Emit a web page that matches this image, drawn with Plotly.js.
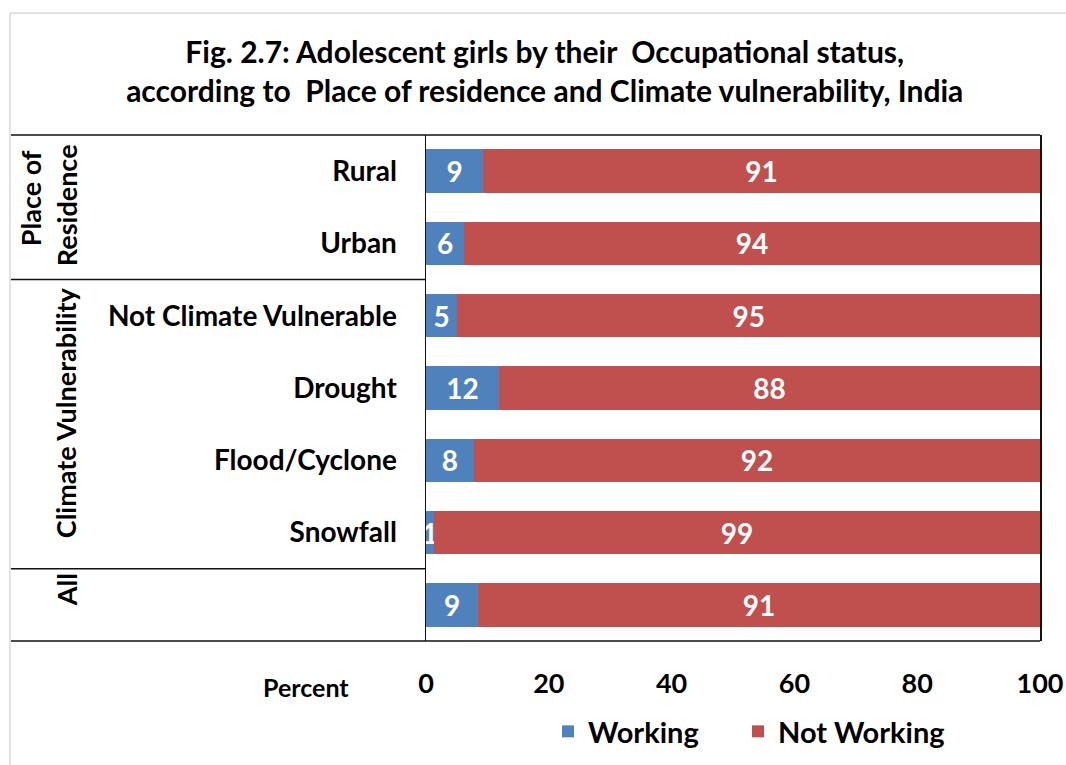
<!DOCTYPE html>
<html>
<head>
<meta charset="utf-8">
<script src="https://cdn.plot.ly/plotly-3.0.1.min.js"></script>
<style>html,body{margin:0;padding:0;background:#fff;}#chart{width:1066px;height:765px;}</style>
</head>
<body>
<div id="chart"></div>
<script>
const categories = ["Rural", "Urban", "Not Climate Vulnerable", "Drought", "Flood/Cyclone", "Snowfall", "All"];
const tickLabels = ["Rural", "Urban", "Not Climate Vulnerable", "Drought", "Flood/Cyclone", "Snowfall", ""];
const working = [9.3, 6.2, 5.1, 11.9, 7.8, 1.3, 8.5];
const notWorking = [90.7, 93.8, 94.9, 88.1, 92.2, 98.7, 91.5];
const workingLabels = ["9", "6", "5", "12", "8", "1", "9"];
const notWorkingLabels = ["91", "94", "95", "88", "92", "99", "91"];
const xTicks = [0, 20, 40, 60, 80, 100];

const FONT = "Lato, 'Open Sans', sans-serif";
const BLUE = "#4F81BD";
const RED = "#C0504D";

const common = {
  type: "bar", orientation: "h", y: categories,
  textposition: "inside", insidetextanchor: "middle", constraintext: "none",
  textfont: {family: FONT, size: 28, color: "#ffffff", weight: "bold"},
  hoverinfo: "none"
};

const traces = [
  Object.assign({}, common, {name: "Working", x: working, text: workingLabels, marker: {color: BLUE}, legend: "legend"}),
  Object.assign({}, common, {name: "Not Working", x: notWorking, text: notWorkingLabels, marker: {color: RED}, legend: "legend2"})
];

const legendBase = {
  orientation: "h", xref: "container", yref: "container", xanchor: "left", y: 1 - 706 / 765, yanchor: "top",
  font: {family: FONT, size: 29, weight: "bold", color: "#000000"},
  itemwidth: 30, bgcolor: "rgba(0,0,0,0)"
};

const L = -0.676;  // left edge of frame in plot-paper coords
const lineC = "#111111";
const layout = {
  width: 1066, height: 765,
  margin: {l: 426, r: 26, t: 135, b: 124, pad: 0},
  paper_bgcolor: "#ffffff", plot_bgcolor: "#ffffff",
  barmode: "stack", bargap: 0.4,
  font: {family: FONT, color: "#000000"},
  title: {
    text: "Fig. 2.7: Adolescent girls by their  Occupational status,<br>according to  Place of residence and Climate vulnerability, India",
    font: {family: FONT, size: 30, weight: "bold", color: "#000000"},
    x: 0.511, xanchor: "center", y: 0.918, yanchor: "middle"
  },
  xaxis: {
    range: [0, 100], tickvals: xTicks, showgrid: false, zeroline: false, showline: false,
    ticks: "", ticklabelstandoff: 24,
    tickfont: {family: FONT, size: 27, weight: "bold", color: "#000000"}, fixedrange: true
  },
  yaxis: {
    type: "category", autorange: "reversed", tickvals: categories, ticktext: tickLabels,
    showgrid: false, zeroline: false, showline: true, mirror: true, linecolor: lineC, linewidth: 1.5,
    ticks: "", ticklabelstandoff: 22,
    tickfont: {family: FONT, size: 28, weight: "bold", color: "#000000"}, fixedrange: true
  },
  showlegend: true,
  legend: Object.assign({}, legendBase, {x: 548 / 1066}),
  legend2: Object.assign({}, legendBase, {x: 738 / 1066}),
  shapes: [
    {type: "line", xref: "paper", yref: "paper", x0: L, x1: 1, y0: 1, y1: 1, line: {color: lineC, width: 1.5}},
    {type: "line", xref: "paper", yref: "paper", x0: L, x1: 1, y0: 0, y1: 0, line: {color: lineC, width: 1.5}},
    {type: "line", xref: "paper", yref: "y", x0: L, x1: 0, y0: 1.5, y1: 1.5, line: {color: lineC, width: 1.5}},
    {type: "line", xref: "paper", yref: "y", x0: L, x1: 0, y0: 5.5, y1: 5.5, line: {color: lineC, width: 1.5}},
    {type: "line", xref: "paper", yref: "paper", x0: -0.6775, x1: -0.6775, y0: 1.241, y1: -0.3, line: {color: "#d9d9d9", width: 1.5}},
    {type: "line", xref: "paper", yref: "paper", x0: -0.6775, x1: 1.1, y0: 1.241, y1: 1.241, line: {color: "#d9d9d9", width: 1.5}}
  ],
  annotations: [
    {text: "Place of", xref: "paper", yref: "paper", x: -0.643, y: (641 - 198) / 506, textangle: -90, showarrow: false,
     font: {family: FONT, size: 27, weight: "bold", color: "#000"}, xanchor: "center", yanchor: "middle"},
    {text: "Residence", xref: "paper", yref: "paper", x: -0.586, y: (641 - 205) / 506, textangle: -90, showarrow: false,
     font: {family: FONT, size: 27, weight: "bold", color: "#000"}, xanchor: "center", yanchor: "middle"},
    {text: "Climate Vulnerability", xref: "paper", yref: "paper", x: -0.586, y: (641 - 413) / 506, textangle: -90, showarrow: false,
     font: {family: FONT, size: 27, weight: "bold", color: "#000"}, xanchor: "center", yanchor: "middle"},
    {text: "All", xref: "paper", yref: "paper", x: -0.586, y: (641 - 590) / 506, textangle: -90, showarrow: false,
     font: {family: FONT, size: 27, weight: "bold", color: "#000"}, xanchor: "center", yanchor: "middle"},
    {text: "Percent", xref: "paper", yref: "paper", x: (306 - 426) / 614, y: (641 - 687) / 506, showarrow: false,
     font: {family: FONT, size: 25, weight: "bold", color: "#000"}, xanchor: "center", yanchor: "middle"}
  ]
};

Plotly.newPlot("chart", traces, layout, {displayModeBar: false, staticPlot: true});
</script>
</body>
</html>
